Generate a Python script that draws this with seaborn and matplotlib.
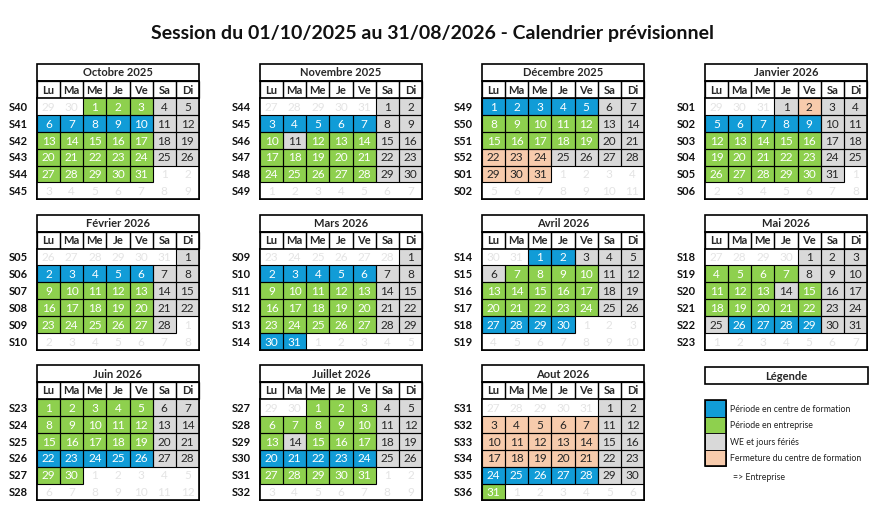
import datetime as dt
import calendar
import numpy as np
import matplotlib
matplotlib.use("Agg")
import matplotlib.pyplot as plt
from matplotlib.colors import ListedColormap
from matplotlib.patches import Rectangle
import seaborn as sns

sns.set_theme(style="white")
plt.rcParams['font.family'] = ['Lato', 'DejaVu Sans']

TITLE = "Session du 01/10/2025 au 31/08/2026 - Calendrier prévisionnel"
MONTH_NAMES = ["Octobre 2025", "Novembre 2025", "Décembre 2025", "Janvier 2026",
               "Février 2026", "Mars 2026", "Avril 2026", "Mai 2026",
               "Juin 2026", "Juillet 2026", "Aout 2026"]
MONTHS = [(2025, 10), (2025, 11), (2025, 12), (2026, 1), (2026, 2), (2026, 3),
          (2026, 4), (2026, 5), (2026, 6), (2026, 7), (2026, 8)]
DAY_HEADERS = ["Lu", "Ma", "Me", "Je", "Ve", "Sa", "Di"]
# B = centre de formation, G = entreprise, W = WE/fériés, P = fermeture, O = hors mois
CODES = [
    ["OOGGGWW", "BBBBBWW", "GGGGGWW", "GGGGGWW", "GGGGGOO", "OOOOOOO"],
    ["OOOOOWW", "BBBBBWW", "GWGGGWW", "GGGGGWW", "GGGGGWW", "OOOOOOO"],
    ["BBBBBWW", "GGGGGWW", "GGGGGWW", "PPPWWWW", "PPPOOOO", "OOOOOOO"],
    ["OOOWPWW", "BBBBBWW", "GGGGGWW", "GGGGGWW", "GGGGGWO", "OOOOOOO"],
    ["OOOOOOW", "BBBBBWW", "GGGGGWW", "GGGGGWW", "GGGGGWO", "OOOOOOO"],
    ["OOOOOOW", "BBBBBWW", "GGGGGWW", "GGGGGWW", "GGGGGWW", "BBOOOOO"],
    ["OOBBWWW", "WGGGGWW", "GGGGGWW", "GGGGGWW", "BBBBOOO", "OOOOOOO"],
    ["OOOOWWW", "GGGGWWW", "GGGWGWW", "GGGGGWW", "WBBBBWW", "OOOOOOO"],
    ["GGGGGWW", "GGGGGWW", "GGGGGWW", "BBBBBWW", "GGOOOOO", "OOOOOOO"],
    ["OOGGGWW", "GGGGGWW", "GWGGGWW", "BBBBBWW", "GGGGGOO", "OOOOOOO"],
    ["OOOOOWW", "PPPPPWW", "PPPPPWW", "PPPPPWW", "BBBBBWW", "GOOOOOO"],
]
# quirk in the reference: August S32 weekend shows 11, 12
LABEL_OVERRIDES = {(10, 1, 5): "11", (10, 1, 6): "12"}
LEGEND_LABELS = ["Période en centre de formation", "Période en entreprise",
                 "WE et jours fériés", "Fermeture du centre de formation"]

COLORS = {"O": "#FFFFFF", "B": "#119CD7", "G": "#8ED04E", "W": "#D9D9D9", "P": "#F7CBAC"}
ORDER = "OBGWP"
TXT = {"O": "#E4E4E4", "B": "white", "G": "white", "W": "#262626", "P": "#262626"}

W, H = 886, 520
fig = plt.figure(figsize=(W / 100, H / 100), dpi=100)
ov = fig.add_axes([0, 0, 1, 1])
ov.set_xlim(0, W); ov.set_ylim(H, 0); ov.axis("off")
ov.text(433, 34, TITLE, ha="center", va="center", fontsize=14, fontweight="bold", color="#111")

cmap = ListedColormap([COLORS[c] for c in ORDER])
colx = [37, 260, 482, 705]
CW = 162 / 7
RH = 16.9

for mi, ((yr, mo), name, codes) in enumerate(zip(MONTHS, MONTH_NAMES, CODES)):
    r, c = divmod(mi, 4)
    x0 = colx[c]
    y0 = 64 + r * 150.5
    first = dt.date(yr, mo, 1)
    start = first - dt.timedelta(days=first.weekday())
    dates = [[start + dt.timedelta(days=7 * i + j) for j in range(7)] for i in range(6)]
    mat = np.array([[ORDER.index(ch) for ch in row] for row in codes])
    gy = y0 + 34
    ax = fig.add_axes([x0 / W, 1 - (gy + 6 * RH) / H, 162 / W, 6 * RH / H])
    sns.heatmap(mat, ax=ax, cmap=cmap, vmin=-0.5, vmax=4.5, cbar=False,
                xticklabels=False, yticklabels=False, linewidths=0)
    for i in range(6):
        for j in range(7):
            ch = codes[i][j]
            if ch != "O":
                ax.add_patch(Rectangle((j, i), 1, 1, fill=False, ec="black", lw=0.8, zorder=3))
            lab = LABEL_OVERRIDES.get((mi, i, j), str(dates[i][j].day))
            ax.text(j + 0.5, i + 0.55, lab, ha="center", va="center", fontsize=8.5,
                    color=TXT[ch], zorder=4)
        wk = dates[i][0].isocalendar()[1]
        ov.text(x0 - 19, gy + (i + 0.55) * RH, f"S{wk:02d}", ha="center", va="center",
                fontsize=8, fontweight="bold", color="#111")
    for s in ax.spines.values():
        s.set_visible(True); s.set_color("black"); s.set_linewidth(1.2)
    # title + header
    ov.add_patch(Rectangle((x0, y0), 162, 17, fill=False, ec="black", lw=1.2))
    ov.text(x0 + 81, y0 + 9, name, ha="center", va="center", fontsize=8, fontweight="bold")
    for j, d in enumerate(DAY_HEADERS):
        ov.add_patch(Rectangle((x0 + j * CW, y0 + 17), CW, 17, fill=False, ec="black", lw=0.9))
        ov.text(x0 + (j + 0.5) * CW, y0 + 26, d, ha="center", va="center",
                fontsize=8, fontweight="bold")
    ov.add_patch(Rectangle((x0, y0 + 17), 162, 6 * RH + 17, fill=False, ec="black", lw=1.2))

# legend
lx, ly = 705, 367
ov.add_patch(Rectangle((lx, ly), 163, 17, fill=False, ec="black", lw=1.2))
ov.text(lx + 81, ly + 9, "Légende", ha="center", va="center", fontsize=8, fontweight="bold")
for k, (code, lab) in enumerate(zip("BGWP", LEGEND_LABELS)):
    yy = 400 + k * 16.6
    ov.add_patch(Rectangle((lx, yy), 21, 16.6, fc=COLORS[code], ec="black", lw=0.6))
    ov.text(lx + 25, yy + 9, lab, ha="left", va="center", fontsize=6.3, color="#222")
ov.add_patch(Rectangle((lx, 400), 21, 4 * 16.6, fill=False, ec="black", lw=1.2))
ov.text(lx + 28, 477, "=> Entreprise", ha="left", va="center", fontsize=6.3, color="#222")

fig.savefig("out.png", dpi=100)
